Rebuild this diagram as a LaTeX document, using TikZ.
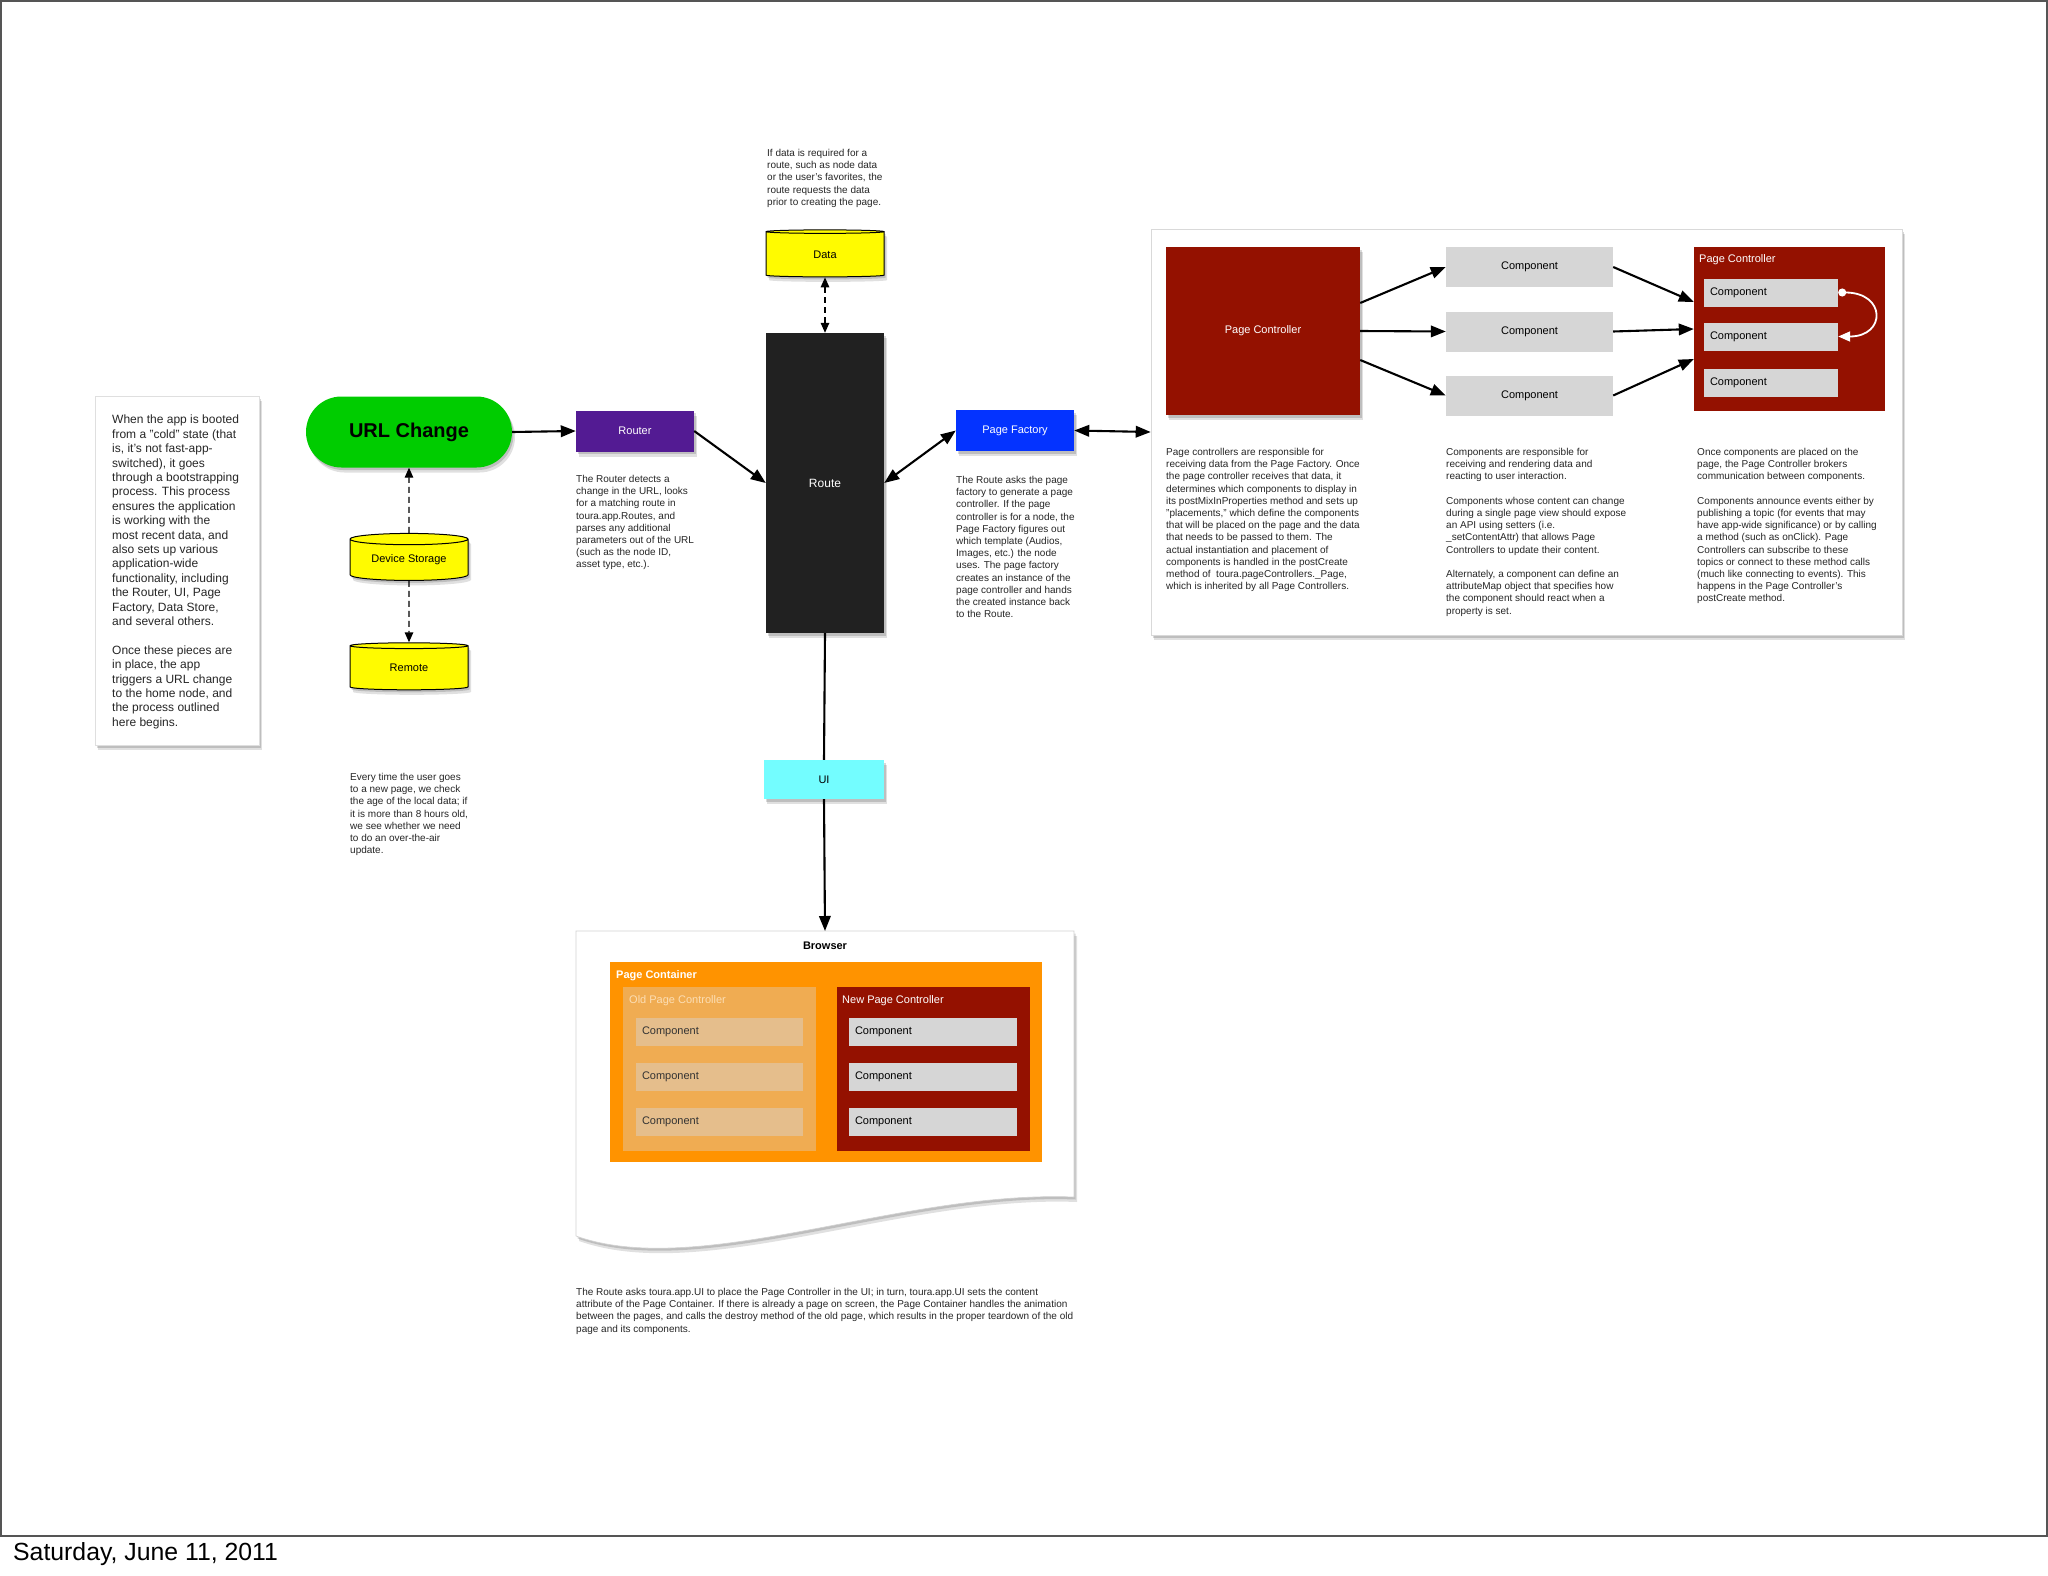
\documentclass[tikz,border=0pt]{standalone}
\usepackage{fontspec}
\setmainfont{Liberation Sans}
\usepackage{xcolor}
\usepackage{tikz}
\usetikzlibrary{arrows.meta,shapes.geometric,shadows,calc}

\definecolor{pcred}{RGB}{148,17,0}
\definecolor{compgray}{RGB}{214,214,214}
\definecolor{urlgreen}{RGB}{0,204,0}
\definecolor{routerpurple}{RGB}{83,27,147}
\definecolor{factoryblue}{RGB}{4,51,255}
\definecolor{uicyan}{RGB}{115,253,255}
\definecolor{dbyellow}{RGB}{255,251,0}
\definecolor{pcorange}{RGB}{255,147,0}
\definecolor{oldorange}{RGB}{240,172,82}
\definecolor{oldcomp}{RGB}{229,190,140}
\definecolor{oldtitle}{RGB}{252,222,180}
\definecolor{routeblack}{RGB}{33,33,33}
\definecolor{framegray}{RGB}{85,85,85}

\tikzset{
    softshadow/.style={drop shadow={shadow xshift=1.5pt,shadow yshift=-2.5pt,opacity=.15,fill=black},
                       drop shadow={shadow xshift=3pt,shadow yshift=-5pt,opacity=.12,fill=black}},
    boxnode/.style={rectangle, inner sep=0pt, text=white, font=\fontsize{11}{13}\selectfont, softshadow},
    dbnode/.style={cylinder, shape border rotate=90, aspect=0.15, draw=black, line width=1pt,
                   fill=dbyellow, inner sep=0pt, minimum width=118pt, minimum height=47pt,
                   font=\fontsize{11}{13}\selectfont, softshadow},
    compbox/.style={rectangle, fill=compgray, inner sep=0pt, font=\fontsize{11}{13}\selectfont},
    lcomp/.style={compbox, text width=#1, align=left, inner xsep=6pt, minimum height=28pt},
    notetext/.style={anchor=north west, align=left, inner sep=0pt, text=black!85,
                     font=\fontsize{10}{12.2}\selectfont},
    lnk/.style={line width=2.1pt, -{Triangle[length=15pt,width=11.5pt]}},
    lnkb/.style={line width=2.1pt, {Triangle[length=15pt,width=11.5pt]}-{Triangle[length=15pt,width=11.5pt]}},
    dlnk/.style={line width=1.4pt, dash pattern=on 6pt off 4pt, -{Triangle[length=10pt,width=8.5pt]}},
}

\begin{document}
\begin{tikzpicture}[x=1pt, y=-1pt]
        \fill[white] (0,0) rectangle (2048,1576);
        \useasboundingbox (0,0) rectangle (2048,1576);
        \draw[framegray, line width=2pt] (1,1) rectangle (2047,1536);
        \node[anchor=base west, inner sep=0pt, font=\fontsize{24.8}{29}\selectfont] (Z1) at (13,1560) {Saturday, June 11, 2011};

        % boot note
        \node[fill=white, draw=gray!25, line width=0.5pt, minimum width=164pt, minimum height=349pt, softshadow] (A1) at (177,570.5) {};
        \node[notetext, font=\fontsize{12}{14.4}\selectfont] (N1) at (112,415) {When the app is booted\\from a "cold" state (that\\is, it's not fast-app-\\switched), it goes\\through a bootstrapping\\process. This process\\ensures the application\\is working with the\\most recent data, and\\also sets up various\\application-wide\\functionality, including\\the Router, UI, Page\\Factory, Data Store,\\and several others.\\[14.4pt]Once these pieces are\\in place, the app\\triggers a URL change\\to the home node, and\\the process outlined\\here begins.};

        \node[fill=urlgreen, rounded corners=35.5pt, minimum width=206pt, minimum height=71pt, inner sep=0pt,
              font=\bfseries\fontsize{20}{24}\selectfont, softshadow] (B1) at (409,432) {URL Change};
        \node[dbnode] (B2) at (409,560) {Device Storage};
        \node[dbnode] (B3) at (409,668) {Remote};
        \node[notetext] (N2) at (350,773) {Every time the user goes\\to a new page, we check\\the age of the local data; if\\it is more than 8 hours old,\\we see whether we need\\to do an over-the-air\\update.};

        \node[boxnode, fill=routerpurple, minimum width=118pt, minimum height=41pt] (C1) at (635,431) {Router};
        \node[notetext] (N3) at (576,475) {The Router detects a\\change in the URL, looks\\for a matching route in\\toura.app.Routes, and\\parses any additional\\parameters out of the URL\\(such as the node ID,\\asset type, etc.).};

        \node[notetext] (N4) at (767,149) {If data is required for a\\route, such as node data\\or the user's favorites, the\\route requests the data\\prior to creating the page.};
        \node[dbnode] (D1) at (825,254.5) {Data};
        \node[boxnode, fill=routeblack, minimum width=118pt, minimum height=300pt, font=\fontsize{12}{14}\selectfont] (D2) at (825,483) {Route};
        \node[boxnode, fill=uicyan, text=black, minimum width=120pt, minimum height=39pt] (D3) at (824,779.5) {UI};

        \node[boxnode, fill=factoryblue, minimum width=118pt, minimum height=41pt] (E1) at (1015,430.5) {Page Factory};
        \node[notetext] (N5) at (956,476) {The Route asks the page\\factory to generate a page\\controller. If the page\\controller is for a node, the\\Page Factory figures out\\which template (Audios,\\Images, etc.) the node\\uses. The page factory\\creates an instance of the\\page controller and hands\\the created instance back\\to the Route.};

        % page controller panel
        \node[fill=white, draw=gray!30, line width=0.6pt, minimum width=751pt, minimum height=406pt, softshadow] (F0) at (1526.5,432) {};
        \node[boxnode, fill=pcred, minimum width=194pt, minimum height=168pt, softshadow/.style={}] (F1) at (1263,331) {Page Controller};
        \node[compbox, minimum width=167pt, minimum height=40pt] (G1) at (1529.5,267) {Component};
        \node[compbox, minimum width=167pt, minimum height=40pt] (G2) at (1529.5,331.5) {Component};
        \node[compbox, minimum width=167pt, minimum height=40pt] (G3) at (1529.5,395.5) {Component};
        \node[fill=pcred, minimum width=191pt, minimum height=164pt, inner sep=0pt] (H0) at (1789.5,329) {};
        \node[anchor=west, inner sep=0pt, text=white, font=\fontsize{11}{13}\selectfont] (H0t) at (1699,260) {Page Controller};
        \node[lcomp=122pt] (H1) at (1771,292.5) {Component};
        \node[lcomp=122pt] (H2) at (1771,336.5) {Component};
        \node[lcomp=122pt] (H3) at (1771,382.5) {Component};
        \node[notetext] (N6) at (1166,448) {Page controllers are responsible for\\receiving data from the Page Factory. Once\\the page controller receives that data, it\\determines which components to display in\\its postMixInProperties method and sets up\\"placements," which define the components\\that will be placed on the page and the data\\that needs to be passed to them. The\\actual instantiation and placement of\\components is handled in the postCreate\\method of \ toura.pageControllers.\_Page,\\which is inherited by all Page Controllers.};
        \node[notetext] (N7) at (1446,448) {Components are responsible for\\receiving and rendering data and\\reacting to user interaction.\\[12.2pt]Components whose content can change\\during a single page view should expose\\an API using setters (i.e.\\\_setContentAttr) that allows Page\\Controllers to update their content.\\[12.2pt]Alternately, a component can define an\\attributeMap object that specifies how\\the component should react when a\\property is set.};
        \node[notetext] (N8) at (1697,448) {Once components are placed on the\\page, the Page Controller brokers\\communication between components.\\[12.2pt]Components announce events either by\\publishing a topic (for events that may\\have app-wide significance) or by calling\\a method (such as onClick). Page\\Controllers can subscribe to these\\topics or connect to these method calls\\(much like connecting to events). This\\happens in the Page Controller's\\postCreate method.};

        % browser
        \draw[fill=white, draw=gray!35, line width=0.6pt, softshadow] (576,931) -- (1074,931) -- (1074,1197)
            .. controls (900,1190) and (700,1280) .. (576,1236) -- cycle;
        \coordinate (D4) at (825,931);
        \node[font=\bfseries\fontsize{11}{13}\selectfont] (K0) at (825,946) {Browser};
        \node[fill=pcorange, minimum width=432pt, minimum height=200pt, inner sep=0pt] (P0) at (826,1062) {};
        \node[anchor=west, inner sep=0pt, text=white, font=\bfseries\fontsize{11}{13}\selectfont] (P0t) at (616,976) {Page Container};
        \node[fill=oldorange, minimum width=193pt, minimum height=164pt, inner sep=0pt] (P1) at (719.5,1069) {};
        \node[anchor=west, inner sep=0pt, text=oldtitle, font=\fontsize{11}{13}\selectfont] (P1t) at (629,1001) {Old Page Controller};
        \node[lcomp=155pt, fill=oldcomp, text=black!80] (P11) at (719.5,1032) {Component};
        \node[lcomp=155pt, fill=oldcomp, text=black!80] (P12) at (719.5,1076.5) {Component};
        \node[lcomp=155pt, fill=oldcomp, text=black!80] (P13) at (719.5,1122) {Component};
        \node[fill=pcred, minimum width=193pt, minimum height=164pt, inner sep=0pt] (P2) at (933.5,1069) {};
        \node[anchor=west, inner sep=0pt, text=white, font=\fontsize{11}{13}\selectfont] (P2t) at (842,1001) {New Page Controller};
        \node[lcomp=156pt] (P21) at (933,1032) {Component};
        \node[lcomp=156pt] (P22) at (933,1076.5) {Component};
        \node[lcomp=156pt] (P23) at (933,1122) {Component};
        \node[notetext] (N9) at (576,1288) {The Route asks toura.app.UI to place the Page Controller in the UI; in turn, toura.app.UI sets the content\\attribute of the Page Container. If there is already a page on screen, the Page Container handles the animation\\between the pages, and calls the destroy method of the old page, which results in the proper teardown of the old\\page and its components.};

        \draw[lnk] (B1.east) -- (C1.west);
        \draw[dlnk] (B2.north) -- (B1.south);
        \draw[dlnk] (B2.south) -- (B3.north);
        \draw[lnk] (C1.east) -- (D2.west);
        \draw[dlnk, {Triangle[length=10pt,width=8.5pt]}-{Triangle[length=10pt,width=8.5pt]}] (D1.south) -- (D2.north);
        \draw[lnkb] (D2.east) -- (E1.west);
        \draw[lnkb] (E1.east) -- (F0.west);
        \draw[line width=2.1pt] (D2.south) -- (D3.north);
        \draw[lnk] (D3.south) -- (D4);
        \draw[lnk] ($(F1.east)+(0,-28)$) -- (G1.west);
        \draw[lnk] (F1.east) -- (G2.west);
        \draw[lnk] ($(F1.east)+(0,29)$) -- (G3.west);
        \draw[lnk] (G1.east) -- ($(H0.west)+(0,-27)$);
        \draw[lnk] (G2.east) -- (H0.west);
        \draw[lnk] (G3.east) -- ($(H0.west)+(0,30)$);
        \draw[white, line width=1.8pt, {Circle[length=8pt]}-{Triangle[length=12pt,width=10pt]}] (H1.east) to[out=0, in=0, looseness=2.8] (H2.east);
    \end{tikzpicture}
\end{document}
